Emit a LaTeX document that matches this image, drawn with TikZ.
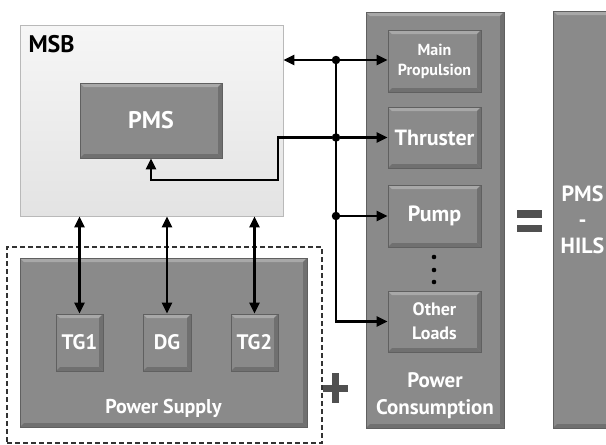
\documentclass[tikz,border=0pt]{standalone}
\usepackage{fontspec}
\setmainfont{PT Sans}
\usepackage{xcolor}
\definecolor{boxgray}{RGB}{138,138,138}
\definecolor{boxedge}{RGB}{96,96,96}
\definecolor{bevlight}{RGB}{168,168,168}
\definecolor{bevdark}{RGB}{112,112,112}
\definecolor{signgray}{RGB}{80,80,80}
\usetikzlibrary{arrows.meta, positioning}

\begin{document}
\begin{tikzpicture}[
    x=1pt, y=-1pt,
    bevel/.style ={rectangle, draw=boxedge, line width=0.8pt, fill=boxgray,
                   inner sep=0pt, text=white, align=center,
                   font=\bfseries\fontsize{21}{25}\selectfont,
                   path picture={
                     \fill[bevlight] (path picture bounding box.north west)
                       -- (path picture bounding box.north east)
                       -- ([shift={(-4pt,-4pt)}]path picture bounding box.north east)
                       -- ([shift={(4pt,-4pt)}]path picture bounding box.north west) -- cycle;
                     \fill[bevdark] (path picture bounding box.south west)
                       -- (path picture bounding box.south east)
                       -- ([shift={(-4pt,4pt)}]path picture bounding box.south east)
                       -- ([shift={(4pt,4pt)}]path picture bounding box.south west) -- cycle;
                     \fill[bevdark] (path picture bounding box.north east)
                       -- (path picture bounding box.south east)
                       -- ([shift={(-4pt,4pt)}]path picture bounding box.south east)
                       -- ([shift={(-4pt,-4pt)}]path picture bounding box.north east) -- cycle;
                   }},
    panel/.style ={rectangle, draw=gray!55, line width=0.8pt,
                   top color=gray!7, bottom color=gray!22},
    arrow/.style ={-{Triangle[length=11pt, width=10pt]}, line width=2.3pt, black},
    dblarrow/.style ={{Triangle[length=11pt, width=10pt]}-{Triangle[length=11pt, width=10pt]},
                   line width=2.2pt, black},
    junction/.style ={circle, fill=black, inner sep=0pt, minimum size=8.5pt}
]
\useasboundingbox (0,0) rectangle (606,445);

%% --- MSB avec PMS ---
\node[panel, minimum width=263pt, minimum height=191pt] (msb) at (151.5,120.5) {};
\node[anchor=west, font=\bfseries\fontsize{24}{26}\selectfont] (msblabel) at (25,44) {MSB};
\node[bevel, minimum width=142pt, minimum height=75pt,
      font=\bfseries\fontsize{24}{26}\selectfont] (pms) at (151,120.5) {PMS};

%% --- alimentation ---
\node[draw=gray!40!black, dashed, line width=1.2pt, dash pattern=on 5pt off 3pt,
      minimum width=315pt, minimum height=196pt] (supplyframe) at (164.5,345) {};
\node[bevel, minimum width=287pt, minimum height=169pt] (psup) at (163.5,342.5) {};
\node[bevel, minimum width=47pt, minimum height=57pt] (tg1) at (79.5,342.5) {TG1};
\node[bevel, minimum width=48pt, minimum height=57pt] (dg)  at (167,342.5)  {DG};
\node[bevel, minimum width=47pt, minimum height=57pt] (tg2) at (254.5,342.5) {TG2};
\node[text=white, font=\bfseries\fontsize{20}{22}\selectfont] (psuplabel) at (163.5,408) {Power Supply};

%% --- consommation ---
\node[bevel, minimum width=138pt, minimum height=416pt] (cons) at (435,220) {};
\node[bevel, minimum width=93pt, minimum height=62pt,
      font=\bfseries\fontsize{16}{20}\selectfont] (main) at (434.5,61) {Main\\Propulsion};
\node[bevel, minimum width=93pt, minimum height=61pt, font=\bfseries\fontsize{22}{25}\selectfont] (thr)   at (434.5,137.5) {Thruster};
\node[bevel, minimum width=93pt, minimum height=62pt, font=\bfseries\fontsize{22}{25}\selectfont] (pump)  at (434.5,216)   {Pump};
\node[bevel, minimum width=93pt, minimum height=61pt,
      font=\bfseries\fontsize{18}{24}\selectfont] (other) at (434.5,321.5) {Other\\Loads};
\node[text=white, align=center, font=\bfseries\fontsize{21}{27}\selectfont] (conslabel) at (435,396) {Power\\Consumption};
\foreach \y in {257,270,282} \fill (434,\y) circle (2.3pt);

%% --- PMS-HILS ---
\node[bevel, minimum width=59pt, minimum height=417pt,
      font=\bfseries\fontsize{22}{26}\selectfont] (hils) at (582.5,219.5) {PMS\\-\\HILS};

%% --- signes ---
\fill[signgray] (323,385) rectangle (348,392);
\fill[signgray] (332,373) rectangle (339,403);
\fill[signgray] (517,210) rectangle (542,218);
\fill[signgray] (517,225) rectangle (542,232);

%% --- bus et liaisons ---
\node[junction] (j1) at (336,60)  {};
\node[junction] (j2) at (336,137.5) {};
\node[junction] (j3) at (336,216) {};
\coordinate (bend) at (278,180);

\draw[arrow] (j1) -- (msb.east |- j1);
\draw[arrow] (j1) -- (main.west |- j1);
\draw[arrow] (j2) -- (thr.west);
\draw[arrow] (j3) -- (pump.west);
\draw[arrow] (j1) |- (other.west);
\draw[arrow] (j2) -| (bend) -| (pms.south);

%% --- générateurs vers MSB ---
\draw[dblarrow] (tg1.north) -- (tg1.north |- msb.south);
\draw[dblarrow] (dg.north)  -- (dg.north |- msb.south);
\draw[dblarrow] (tg2.north) -- (tg2.north |- msb.south);
\end{tikzpicture}
\end{document}
